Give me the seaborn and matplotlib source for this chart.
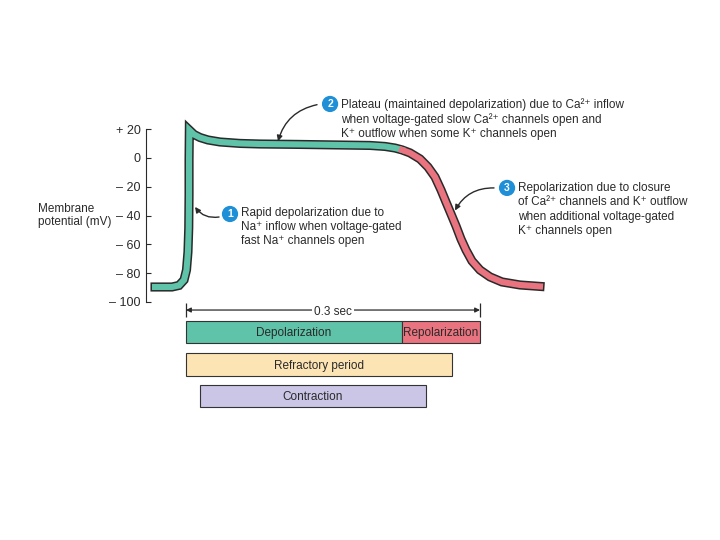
import matplotlib

matplotlib.use("Agg")
import matplotlib.pyplot as plt
import seaborn as sns

# Cardiac action potential, time in seconds from the upstroke, voltage in mV
depol_t = [-0.0316, -0.0143, -0.0071, -0.0020, 0.0005, 0.0020, 0.0028, 0.0031,
           0.0031, 0.0034, 0.0082, 0.0143, 0.0224, 0.0347, 0.0551, 0.0755,
           0.1163, 0.1571, 0.1878, 0.2031, 0.2133, 0.2204]
depol_mv = [-89.6, -89.6, -88.5, -84.7, -77.8, -65.3, -48.6, -25.7,
            -1.4, 19.4, 16.3, 14.2, 12.5, 11.1, 10.1, 9.7,
            9.4, 9.0, 8.7, 8.0, 6.9, 5.6]
repol_t = [0.2204, 0.2286, 0.2388, 0.2469, 0.2541, 0.2602, 0.2653, 0.2704,
           0.2755, 0.2806, 0.2857, 0.2918, 0.3000, 0.3102, 0.3224, 0.3408, 0.3612]
repol_mv = [5.6, 3.5, -0.7, -6.3, -13.2, -22.2, -30.6, -38.9,
            -47.2, -56.3, -63.9, -71.5, -77.8, -82.6, -86.1, -88.2, -89.2]

yticks = [20, 0, -20, -40, -60, -80, -100]
ytick_labels = ["+ 20", "0", "\u2013 20", "\u2013 40", "\u2013 60", "\u2013 80", "\u2013 100"]

phase_labels = ["Depolarization", "Repolarization", "Refractory period", "Contraction"]
phase_start = [0.0, 0.2204, 0.0, 0.0143]
phase_end = [0.2204, 0.3, 0.2714, 0.2449]
scale_len = 0.3

TEAL = "#5ec3a8"
PINK = "#e9737f"
INK = "#2a2a2a"
BLUE = "#1f8fd8"

sns.set_theme(style="white")
plt.rcParams["font.family"] = ["Liberation Sans", "DejaVu Sans"]

fig = plt.figure(figsize=(7.2, 5.4), dpi=100)
ax = fig.add_axes([0, 0, 1, 1])
ax.set_xlim(-0.1898, 0.5449)
ax.set_ylim(-265.3, 109.7)
ax.patch.set_visible(False)

# axis
for side in ["top", "right", "bottom"]:
    ax.spines[side].set_visible(False)
ax.spines["left"].set_position(("data", -0.0408))
ax.spines["left"].set_bounds(-100, 20)
ax.spines["left"].set_color(INK)
ax.spines["left"].set_linewidth(0.8)
ax.set_xticks([])
ax.set_yticks(yticks, ytick_labels)
ax.tick_params(axis="y", direction="in", length=3.6, width=0.8, pad=4,
               labelsize=9, colors=INK, left=True)

ax.text(-0.151, -40, "Membrane\npotential (mV)", ha="left", va="center",
        fontsize=8.5, color=INK, linespacing=1.15)

# trace: dark outline first, then the two coloured phases on top
full_t = depol_t + repol_t[1:]
full_mv = depol_mv + repol_mv[1:]
sns.lineplot(x=full_t, y=full_mv, color=INK, lw=6.6, sort=False, estimator=None,
             solid_joinstyle="miter", solid_capstyle="projecting", ax=ax)
sns.lineplot(x=depol_t, y=depol_mv, color=TEAL, lw=4.4, sort=False, estimator=None,
             solid_joinstyle="miter", solid_capstyle="projecting", ax=ax)
sns.lineplot(x=repol_t, y=repol_mv, color=PINK, lw=4.4, sort=False, estimator=None,
             solid_joinstyle="miter", solid_capstyle="projecting", ax=ax)

# numbered callouts
callouts = [
    ("1", (0.0449, -38.9), (0.0561, -34.0), (0.0337, -41.0), (0.0092, -34.0), -0.3,
     "Rapid depolarization due to\nNa\u207a inflow when voltage-gated\nfast Na\u207a channels open"),
    ("2", (0.1470, 37.5), (0.1582, 41.7), (0.1337, 37.0), (0.0939, 11.6), 0.3,
     "Plateau (maintained depolarization) due to Ca\u00b2\u207a inflow\n"
     "when voltage-gated slow Ca\u00b2\u207a channels open and\n"
     "K\u207a outflow when some K\u207a channels open"),
    ("3", (0.3276, -20.8), (0.3388, -16.7), (0.3143, -20.8), (0.2745, -36.5), 0.3,
     "Repolarization due to closure\nof Ca\u00b2\u207a channels and K\u207a outflow\n"
     "when additional voltage-gated\nK\u207a channels open"),
]
for num, cxy, txy, tail, tip, rad, label in callouts:
    ax.text(*cxy, num, ha="center", va="center", color="white", fontsize=7.5,
            fontweight="bold",
            bbox=dict(boxstyle="circle,pad=0.3", fc=BLUE, ec="none"))
    ax.text(*txy, label, ha="left", va="top", fontsize=8.5, color=INK,
            linespacing=1.25)
    ax.annotate("", xy=tip, xytext=tail,
                arrowprops=dict(arrowstyle="-|>", color=INK, lw=1.0,
                                mutation_scale=8, shrinkA=0, shrinkB=0,
                                connectionstyle=f"arc3,rad={rad}"))

# 0.3 sec scale bar
ax.annotate("", xy=(scale_len, -105.6), xytext=(0, -105.6),
            arrowprops=dict(arrowstyle="<|-|>", color=INK, lw=0.9,
                            mutation_scale=7, shrinkA=0, shrinkB=0))
ax.vlines([0, scale_len], -100.8, -110.4, color=INK, lw=0.9)
ax.text(scale_len / 2, -105.6, "0.3 sec", ha="center", va="center_baseline",
        fontsize=8.5, color=INK, bbox=dict(fc="white", ec="none", pad=1.5))

# phase bars
bar_y = [-120.8, -120.8, -143.4, -165.3]
bar_colors = [TEAL, PINK, "#fde4b4", "#cbc5e6"]
for lab, s, e, y, c in zip(phase_labels, phase_start, phase_end, bar_y, bar_colors):
    ax.barh(y, e - s, left=s, height=15.5, color=c, edgecolor="#333333", lw=0.8)
    ax.text((s + e) / 2, y, lab, ha="center", va="center_baseline", fontsize=8.5,
            color=INK)

fig.savefig("out.png", dpi=100, facecolor="white")
